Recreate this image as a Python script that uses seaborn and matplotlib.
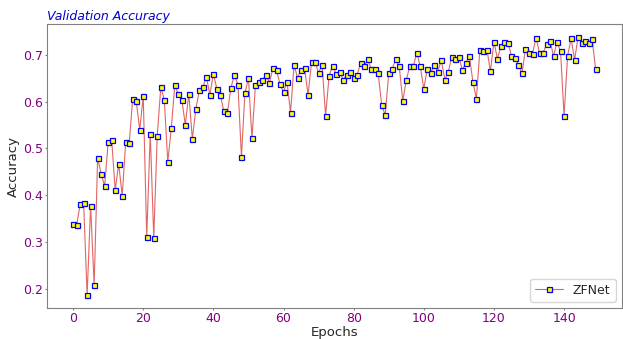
import numpy as np
import pandas as pd
import seaborn as sns
import matplotlib
matplotlib.use("Agg")
import matplotlib.pyplot as plt

# 数据：每个 epoch 的验证准确率
epochs = list(range(150))
val_acc = [
    0.338, 0.335, 0.380, 0.383, 0.186, 0.377, 0.207, 0.480, 0.445, 0.419,
    0.514, 0.518, 0.410, 0.467, 0.398, 0.513, 0.511, 0.606, 0.601, 0.540,
    0.611, 0.311, 0.531, 0.309, 0.527, 0.630, 0.604, 0.471, 0.543, 0.635,
    0.615, 0.604, 0.550, 0.617, 0.520, 0.584, 0.624, 0.630, 0.653, 0.614,
    0.659, 0.627, 0.613, 0.579, 0.576, 0.629, 0.657, 0.636, 0.482, 0.618,
    0.650, 0.521, 0.636, 0.642, 0.647, 0.656, 0.640, 0.672, 0.667, 0.637,
    0.620, 0.642, 0.576, 0.678, 0.651, 0.667, 0.671, 0.614, 0.685, 0.685,
    0.661, 0.679, 0.569, 0.655, 0.677, 0.658, 0.664, 0.647, 0.656, 0.664,
    0.651, 0.657, 0.683, 0.675, 0.690, 0.670, 0.670, 0.660, 0.592, 0.571,
    0.660, 0.670, 0.690, 0.675, 0.601, 0.645, 0.676, 0.675, 0.704, 0.675,
    0.627, 0.670, 0.661, 0.678, 0.664, 0.689, 0.647, 0.664, 0.696, 0.690,
    0.695, 0.668, 0.683, 0.698, 0.642, 0.606, 0.711, 0.708, 0.711, 0.665,
    0.728, 0.691, 0.718, 0.727, 0.726, 0.698, 0.693, 0.679, 0.660, 0.713,
    0.704, 0.702, 0.736, 0.704, 0.704, 0.722, 0.730, 0.697, 0.727, 0.707,
    0.569, 0.697, 0.735, 0.689, 0.738, 0.726, 0.729, 0.726, 0.734, 0.669,
]
model_name = "ZFNet"

df = pd.DataFrame({"Epochs": epochs, "Accuracy": val_acc})

sns.set_style("white")
plt.rcParams['font.family'] = ['DejaVu Sans']

fig = plt.figure(figsize=(6.23, 3.39), dpi=100)
ax = fig.add_axes([0.0754, 0.0914, 0.9226, 0.8376])

sns.lineplot(data=df, x="Epochs", y="Accuracy", ax=ax,
             color="#e06666", linewidth=0.8,
             marker="s", markersize=3.6,
             markerfacecolor="yellow", markeredgecolor="blue",
             markeredgewidth=0.9, label=model_name)

ax.set_title("Validation Accuracy", loc="left", style="italic",
             color="mediumblue", fontsize=9, pad=3)
ax.set_xlabel("Epochs", fontsize=9.5, labelpad=0.5)
ax.set_ylabel("Accuracy", fontsize=9.5, labelpad=2)
ax.tick_params(axis="both", colors="gray", labelsize=9, length=1.6,
               width=0.8, bottom=True, left=True, pad=1.5)
ax.tick_params(labelcolor="purple")
for s in ax.spines.values():
    s.set_color("gray")
    s.set_linewidth(0.8)

ax.legend(loc="lower right", fontsize=9, handlelength=2.2)

fig.savefig("out.png", dpi=100)
